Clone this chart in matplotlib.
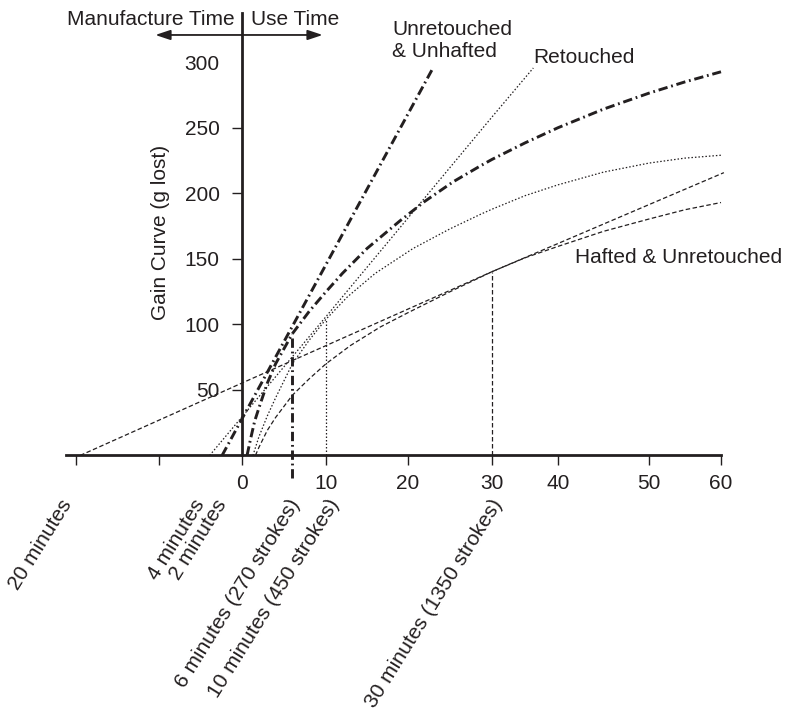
import numpy as np
import matplotlib
matplotlib.use("Agg")
import matplotlib.pyplot as plt
from matplotlib import transforms

plt.rcParams['font.family'] = ['Liberation Sans', 'DejaVu Sans']
INK = '#231f20'

# --- curves (x = minutes, y = g lost) ---
# unretouched & unhafted: manufacture line and use curve
unhaft_make_x = [-2.4, 0, 22.96]
unhaft_make_y = [0, 28, 295.6]
unhaft_use_x = [0.6, 1, 1.5, 2, 3, 4, 6, 8, 10, 12, 15, 19, 22, 25.4, 28.6, 30, 35, 40, 45, 50, 55, 60]
unhaft_use_y = [0, 12, 26, 36, 55, 70, 93, 110, 125, 139, 158, 179, 194, 209, 221, 226,
                238.6, 250.2, 264.4, 276.6, 285.2, 292.9]

# retouched
retouch_make_x = [-3.9, 10, 30, 36.26]
retouch_make_y = [0, 106, 258.4, 295.8]
retouch_use_x = [1.3, 2, 3, 4, 6, 8, 10, 12.6, 16, 20.6, 25, 28.6, 30, 35, 40, 45, 50, 55, 60]
retouch_use_y = [0, 14, 30, 44, 70, 88, 104, 121, 139, 158, 173, 184, 188,
                 198.3, 206.6, 216.3, 223.2, 227, 229.2]

# hafted & unretouched
haft_make_x = [-19.5, 0, 30, 40, 50, 60.4]
haft_make_y = [0, 55.3, 140.3, 161.8, 191.5, 215.9]
haft_use_x = [1.6, 2, 3, 4, 6, 8, 10, 13, 16.6, 20, 25, 30, 35, 40, 45, 50, 55, 60]
haft_use_y = [0, 6, 19, 29, 46, 58.5, 70, 84, 98, 109, 125, 140.3, 150.9, 159.6,
              171.1, 180.5, 187.6, 193.1]

# use times where the curves meet, and gain there
use_times = [6, 10, 30]
use_gain = [93, 104, 140.3]

x_ticks = [-20, -10, 0, 10, 20, 30, 40, 50, 60]
x_tick_labels = ['', '', '0', '10', '20', '30', '40', '50', '60']
y_ticks = [50, 100, 150, 200, 250, 300]

minute_pos = [-20, -4, -2, 6, 10, 30]
minute_labels = ['20 minutes', '4 minutes', '2 minutes', '6 minutes (270 strokes)',
                 '10 minutes (450 strokes)', '30 minutes (1350 strokes)']
minute_nudge = [-16, -16, -11, -5, 1, -2]   # pixels

# the printed x axis is not evenly spaced, so map minutes onto it piecewise
AXIS_KNOTS = [-30, -20, -10, 0, 10, 20, 30, 40, 50, 60, 70]
AXIS_PIX = [-8, 76, 159, 242, 326, 408, 492, 558, 649, 721, 793]


def fwd(x):
    return np.interp(x, AXIS_KNOTS, AXIS_PIX)


def inv(p):
    return np.interp(p, AXIS_PIX, AXIS_KNOTS)


fig = plt.figure(figsize=(7.86, 7.16), dpi=100)
ax = fig.add_axes([0, 0, 1, 1])
ax.set_xscale('function', functions=(fwd, inv))
ax.set_xlim(inv(0), inv(786))
ax.set_ylim(-198.9, 347.7)

bold_dd = (0, (3.2, 1.3, 0.6, 1.3))
thin_dot = (0, (1.2, 1.6))
thin_dash = (0, (3.6, 2.0))

ax.plot(unhaft_make_x, unhaft_make_y, color=INK, lw=2.1, ls=bold_dd)
ax.plot(unhaft_use_x, unhaft_use_y, color=INK, lw=2.1, ls=bold_dd)
ax.plot(retouch_make_x, retouch_make_y, color=INK, lw=0.9, ls=thin_dot)
ax.plot(retouch_use_x, retouch_use_y, color=INK, lw=0.9, ls=thin_dot)
ax.plot(haft_make_x, haft_make_y, color=INK, lw=0.9, ls=thin_dash)
ax.plot(haft_use_x, haft_use_y, color=INK, lw=0.9, ls=thin_dash)

# drop lines at the use times
ax.plot([use_times[0]] * 2, [-17.2, use_gain[0]], color=INK, lw=2.1, ls=bold_dd)
ax.plot([use_times[1]] * 2, [0, use_gain[1]], color=INK, lw=0.9, ls=thin_dot)
ax.plot([use_times[2]] * 2, [0, use_gain[2]], color=INK, lw=0.9, ls=thin_dash)

# axes drawn through the origin
for side in ['top', 'right']:
    ax.spines[side].set_visible(False)
ax.spines['left'].set_position(('data', 0))
ax.spines['bottom'].set_position(('data', 0))
ax.spines['left'].set_bounds(0, 337.5)
ax.spines['bottom'].set_bounds(-21.2, 60)
for side in ['left', 'bottom']:
    ax.spines[side].set_linewidth(2.0)
    ax.spines[side].set_color(INK)
    ax.spines[side].set_zorder(3)

ax.set_xticks(x_ticks)
ax.set_xticklabels(x_tick_labels)
ax.set_yticks(y_ticks)
ax.set_yticklabels([str(v) for v in y_ticks])
ax.xaxis.set_minor_locator(plt.NullLocator())
ax.tick_params(axis='x', direction='out', length=7.2, width=1.0, pad=6,
               labelsize=15, colors=INK)
ax.tick_params(axis='y', direction='out', length=7.2, width=1.0, pad=9,
               labelsize=15, colors=INK)
ax.yaxis.get_major_ticks()[-1].tick1line.set_visible(False)

# rotated minute labels under the axis
for pos, lab, dx in zip(minute_pos, minute_labels, minute_nudge):
    tr = transforms.offset_copy(ax.transData, fig=fig, x=dx, y=0, units='dots')
    ax.text(pos, -30.9, lab, transform=tr, rotation=58, rotation_mode='anchor',
            ha='right', va='top', fontsize=15, color=INK)

ax.text(-9.84, 170.2, 'Gain Curve (g lost)', rotation=90, ha='center', va='center',
        fontsize=15, color=INK)

# manufacture / use time header
ax.text(-0.84, 328.6, 'Manufacture Time', ha='right', va='baseline', fontsize=15, color=INK)
ax.text(1.08, 328.6, 'Use Time', ha='left', va='baseline', fontsize=15, color=INK)
ax.annotate('', xy=(9.6, 321), xytext=(-10.44, 321),
            arrowprops=dict(arrowstyle='<|-|>,head_length=0.9,head_width=0.3',
                            lw=1.3, color=INK, shrinkA=0, shrinkB=0, mutation_scale=10))

# curve labels
ax.text(18.1, 304.4, 'Unretouched\n& Unhafted', ha='left', va='baseline',
        fontsize=15, color=INK, linespacing=1.2)
ax.text(36.26, 299.4, 'Retouched', ha='left', va='baseline', fontsize=15, color=INK)
ax.text(41.87, 146.7, 'Hafted & Unretouched', ha='left', va='baseline', fontsize=15, color=INK)

fig.savefig('out.png', dpi=100)
